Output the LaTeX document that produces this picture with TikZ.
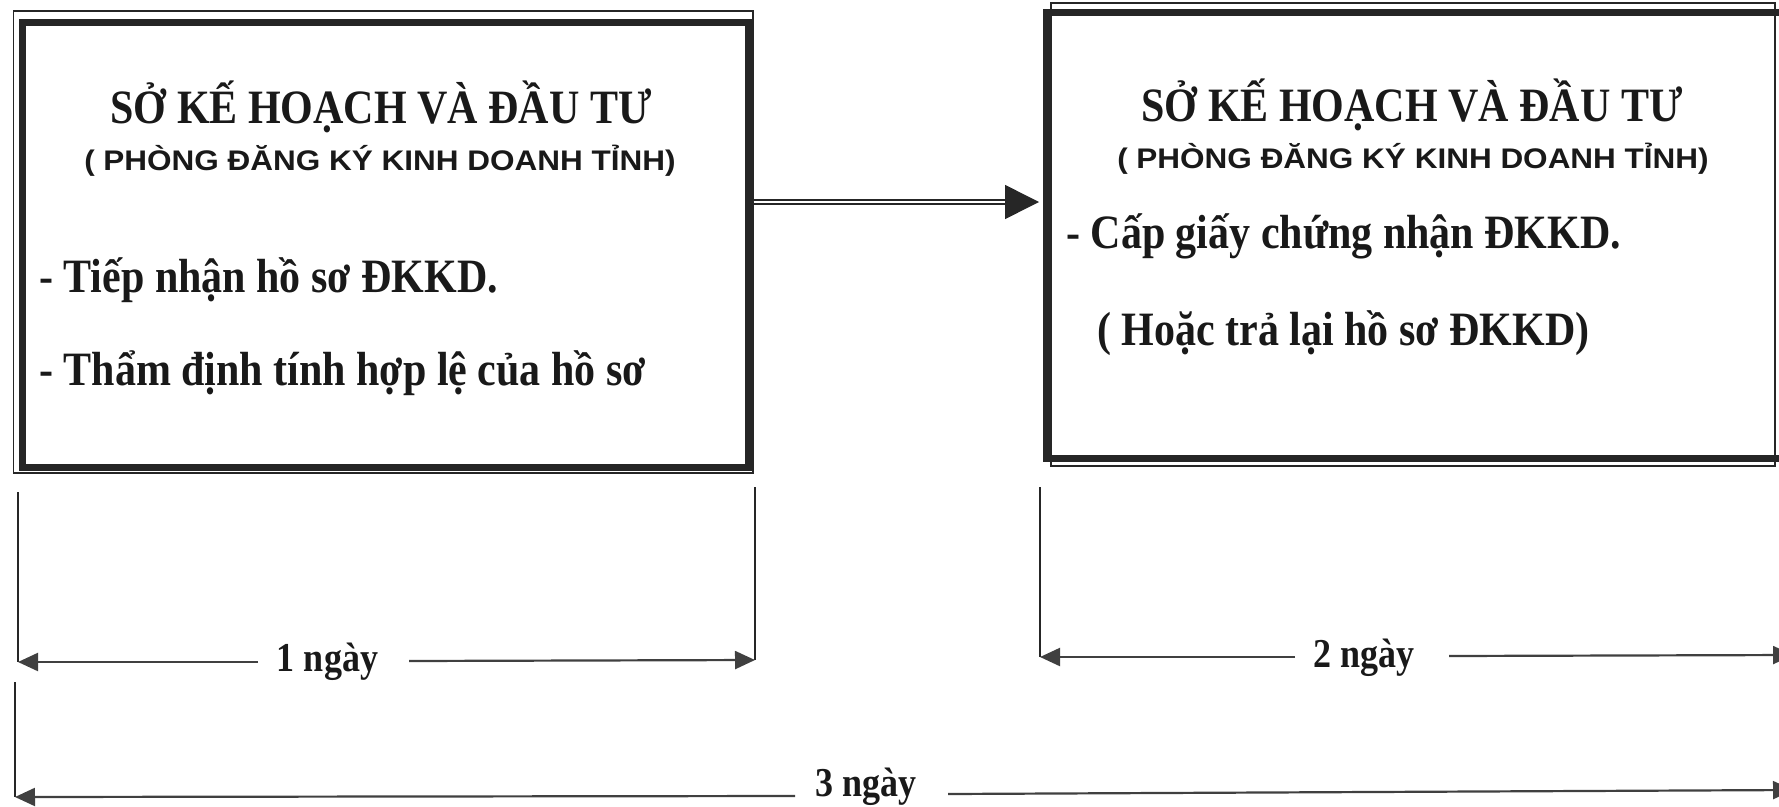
\documentclass[tikz,border=0pt]{standalone}
\usepackage{fontspec}
\setmainfont{Liberation Serif}
\setsansfont{Liberation Sans}
\usetikzlibrary{arrows.meta}
% serif lettering is drawn a little taller than the font's natural height,
% the sans subtitle a little flatter
\newcommand\tall[1]{\scalebox{1}[1.14]{#1}}
\newcommand\squat[1]{\scalebox{1}[0.9]{#1}}

\begin{document}
\begin{tikzpicture}[x=1pt,y=-1pt,
  ink/.style={draw=black!85},
  thinframe/.style={ink, line width=1.6pt, inner sep=0pt, anchor=north west},
  thickframe/.style={ink, line width=7pt, inner sep=0pt, anchor=north west},
  title/.style={inner sep=0pt, anchor=base, text=black!90,
    font=\fontsize{42}{48}\selectfont\bfseries},
  subtitle/.style={inner sep=0pt, anchor=base, text=black!90,
    font=\fontsize{31.5}{36}\selectfont\sffamily\bfseries},
  item/.style={inner sep=0pt, anchor=base west, text=black!90,
    font=\fontsize{42}{48}\selectfont\bfseries},
  daylabel/.style={inner sep=0pt, anchor=base, text=black!90,
    font=\fontsize{36}{42}\selectfont\bfseries},
  guide/.style={ink, line width=1.6pt},
  span/.style={draw=black!75, line width=2.2pt, -{Triangle[length=20pt,width=18pt]}},
  link/.style={ink, line width=1.5pt, double=white, double distance=2.4pt,
    -{Triangle[length=34pt,width=34pt]}},
]
\useasboundingbox (0,0) rectangle (1779,806);
\clip (0,0) rectangle (1779,806);

% ---- left box: thin outer rule, heavy inner rule
\node[thinframe, minimum width=739.5pt, minimum height=462pt] (left) at (12.5,10) {};
\node[thickframe, minimum width=726pt, minimum height=445.5pt] (leftin) at (19,18.5) {};

\node[title] (lt) at (381,123) {\tall{SỞ KẾ HOẠCH VÀ ĐẦU TƯ}};
\node[subtitle] (ls) at (380,170) {\squat{( PHÒNG ĐĂNG KÝ KINH DOANH TỈNH)}};
\node[item] (l1) at (39,292) {\tall{- Tiếp nhận hồ sơ ĐKKD.}};
\node[item] (l2) at (39,385) {\tall{- Thẩm định tính hợp lệ của hồ sơ}};

% ---- right box (runs past the right margin)
\node[thickframe, minimum width=760pt, minimum height=446.5pt] (right) at (1042.5,8.5) {};
\node[thinframe, minimum width=724pt, minimum height=463pt] (rightin) at (1050,2) {};

\node[title] (rt) at (1412,121) {\tall{SỞ KẾ HOẠCH VÀ ĐẦU TƯ}};
\node[subtitle] (rs) at (1413,168) {\squat{( PHÒNG ĐĂNG KÝ KINH DOANH TỈNH)}};
\node[item] (r1) at (1066,248) {\tall{- Cấp giấy chứng nhận ĐKKD.}};
\node[item] (r2) at (1097,345) {\tall{( Hoặc trả lại hồ sơ ĐKKD)}};

% ---- hand-over arrow
\coordinate (arrowy) at (0,202);
\draw[link, shorten >=3.5pt] (left.east |- arrowy) -- (right.west |- arrowy);

% ---- time spans
\coordinate (g1a) at (18,492);   \coordinate (g1b) at (18,662);
\coordinate (g2a) at (755,487);  \coordinate (g2b) at (755,660);
\coordinate (g3a) at (1040,487); \coordinate (g3b) at (1040,657);
\coordinate (g4a) at (15,682);   \coordinate (g4b) at (15,797);
\draw[guide] (g1a) -- (g1b);
\draw[guide] (g2a) -- (g2b);
\draw[guide] (g3a) -- (g3b);
\draw[guide] (g4a) -- (g4b);

\node[daylabel] (d1) at (327.5,671) {\tall{1 ngày}};
\coordinate (d1l) at (258,662);  \coordinate (d1r) at (409,661);
\draw[span] (d1l) -- (g1b);
\draw[span] (d1r) -- (g2b);

\node[daylabel] (d2) at (1364,667) {\tall{2 ngày}};
\coordinate (d2l) at (1295,657); \coordinate (d2r) at (1449,656);
\coordinate (d2end) at (1793,655);
\draw[span] (d2l) -- (g3b);
\draw[span] (d2r) -- (d2end);

\node[daylabel] (d3) at (866,796) {\tall{3 ngày}};
\coordinate (d3l) at (795,796);  \coordinate (d3r) at (948,794);
\coordinate (d3end) at (1793,790);
\draw[span] (d3l) -- (g4b);
\draw[span] (d3r) -- (d3end);
\end{tikzpicture}
\end{document}
